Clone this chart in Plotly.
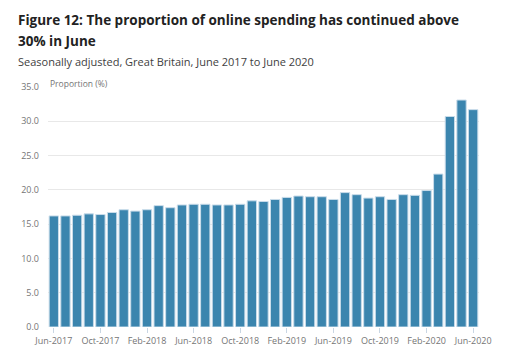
import plotly.graph_objects as go

mnames = ["Jan","Feb","Mar","Apr","May","Jun","Jul","Aug","Sep","Oct","Nov","Dec"]
categories = []
yy, mm = 2017, 5
for _ in range(37):
    categories.append(f"{mnames[mm]}-{yy}")
    mm += 1
    if mm == 12:
        mm = 0
        yy += 1

values = [16.2, 16.2, 16.3, 16.5, 16.4, 16.7, 17.1, 16.9, 17.1, 17.7,
          17.4, 17.8, 17.9, 17.9, 17.8, 17.8, 17.9, 18.4, 18.3, 18.6,
          18.9, 19.1, 19.0, 19.0, 18.6, 19.6, 19.3, 18.8, 19.0, 18.6,
          19.3, 19.2, 19.9, 22.3, 30.7, 33.1, 31.7]

tick_labels = ["Jun-2017", "Oct-2017", "Feb-2018", "Jun-2018", "Oct-2018",
               "Feb-2019", "Jun-2019", "Oct-2019", "Feb-2020", "Jun-2020"]

fig = go.Figure()
fig.add_trace(go.Bar(
    x=categories, y=values,
    marker=dict(color="#3b85ae", line=dict(color="#c9dcea", width=1)),
    hoverinfo="x+y",
))

L, R, T, B = 48, 34, 87, 36
W, H = 513, 363
pw = W - L - R
ph = H - T - B

def px(x):
    return (x - L) / pw

def py(y):
    return (H - B - y) / ph

fig.update_layout(
    width=W, height=H,
    margin=dict(l=L, r=R, t=T, b=B, pad=0),
    paper_bgcolor="white", plot_bgcolor="white",
    font=dict(family="Open Sans", color="#757575"),
    bargap=0.2,
    showlegend=False,
    xaxis=dict(
        type="category",
        tickmode="array", tickvals=tick_labels, ticktext=tick_labels,
        ticks="outside", ticklen=5, tickcolor="#c9d6e3", tickwidth=1,
        tickfont=dict(size=9, color="#757575"),
        showgrid=False, showline=False, zeroline=False,
        automargin=False,
    ),
    yaxis=dict(
        range=[0, 35], dtick=5, tickformat=".1f",
        showgrid=True, gridcolor="#e8e8e8", gridwidth=1,
        zeroline=False, showline=False,
        tickfont=dict(size=9, color="#757575"),
        ticklabelstandoff=8,
        automargin=False,
    ),
    annotations=[
        dict(text="<b>Figure 12: The proportion of online spending has continued above</b>",
             xref="paper", yref="paper", x=px(16), y=py(20), xanchor="left", yanchor="middle",
             showarrow=False, font=dict(size=13.5, color="#222222", family="Open Sans")),
        dict(text="<b>30% in June</b>",
             xref="paper", yref="paper", x=px(16), y=py(41), xanchor="left", yanchor="middle",
             showarrow=False, font=dict(size=13.5, color="#222222", family="Open Sans")),
        dict(text="Seasonally adjusted, Great Britain, June 2017 to June 2020",
             xref="paper", yref="paper", x=px(16), y=py(62), xanchor="left", yanchor="middle",
             showarrow=False, font=dict(size=11, color="#414141", family="Open Sans")),
        dict(text="Proportion (%)",
             xref="paper", yref="paper", x=px(48), y=py(83), xanchor="left", yanchor="middle",
             showarrow=False, font=dict(size=8.5, color="#757575", family="Open Sans")),
    ],
)

fig.write_html("out.html", config={"displayModeBar": False},
               post_script="document.body.style.margin='0';document.body.style.padding='0';")
